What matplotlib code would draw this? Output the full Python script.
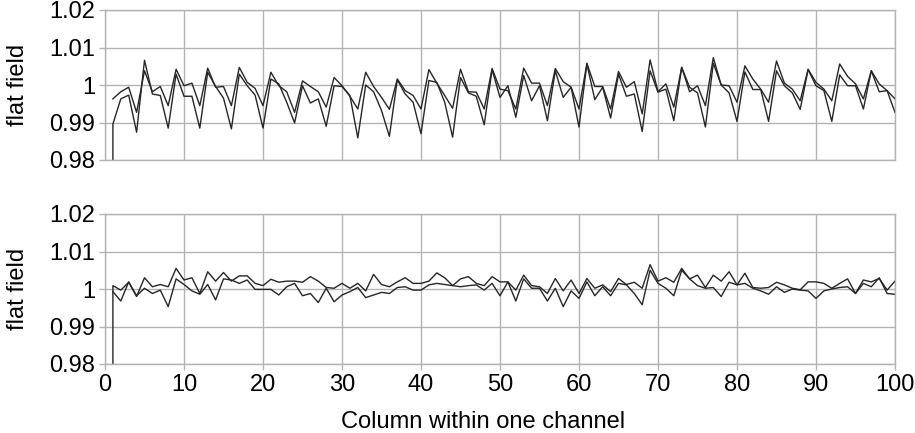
import matplotlib
matplotlib.use("Agg")
import matplotlib.pyplot as plt
import numpy as np

plt.rcParams['font.family'] = ['Liberation Sans', 'DejaVu Sans']

cols = np.arange(1, 101)

# top panel, two channels
top_a = [0.9963, 0.9982, 0.9994, 0.9927, 1.0038, 0.9982, 0.9996, 0.9945, 1.0042, 0.9998,
         1.0005, 0.9945, 1.0045, 0.9994, 0.9996, 0.9945, 1.0047, 1.0007, 0.9991, 0.9945,
         1.0034, 0.9998, 0.9982, 0.9927, 1.0011, 0.9996, 0.9982, 0.9941, 1.0020, 0.9998,
         0.9970, 0.9936, 1.0034, 0.9996, 0.9967, 0.9935, 1.0016, 0.9985, 0.9972, 0.9936,
         1.0041, 1.0005, 0.9972, 0.9938, 1.0042, 0.9982, 0.9981, 0.9936, 1.0044, 0.9989,
         0.9985, 0.9936, 1.0045, 1.0005, 1.0005, 0.9945, 1.0044, 1.0009, 0.9994, 0.9936,
         1.0058, 0.9996, 0.9996, 0.9936, 1.0036, 0.9994, 1.0009, 0.9923, 1.0067, 0.9982,
         1.0003, 0.9941, 1.0047, 0.9982, 0.9998, 0.9945, 1.0073, 1.0000, 0.9998, 0.9954,
         1.0051, 1.0016, 0.9989, 0.9954, 1.0064, 1.0005, 0.9989, 0.9958, 1.0042, 1.0007,
         0.9989, 0.9958, 1.0056, 1.0023, 1.0003, 0.9963, 1.0038, 1.0003, 0.9985, 0.9963]
top_b = [0.9896, 0.9963, 0.9973, 0.9874, 1.0066, 0.9976, 0.9972, 0.9885, 1.0029, 0.9970,
         0.9970, 0.9885, 1.0034, 0.9996, 0.9965, 0.9883, 1.0029, 0.9998, 0.9973, 0.9885,
         1.0016, 1.0003, 0.9954, 0.9899, 0.9998, 0.9952, 0.9963, 0.9890, 0.9998, 0.9996,
         0.9972, 0.9859, 1.0000, 0.9982, 0.9932, 0.9863, 1.0014, 0.9976, 0.9954, 0.9870,
         1.0012, 1.0007, 0.9954, 0.9861, 1.0020, 0.9979, 0.9970, 0.9894, 1.0041, 0.9967,
         0.9998, 0.9914, 1.0025, 0.9958, 0.9998, 0.9905, 1.0038, 0.9967, 0.9994, 0.9888,
         1.0056, 0.9961, 0.9994, 0.9912, 1.0029, 0.9970, 0.9976, 0.9876, 1.0038, 0.9981,
         0.9989, 0.9905, 1.0047, 0.9994, 0.9979, 0.9888, 1.0058, 1.0000, 0.9979, 0.9903,
         1.0035, 0.9988, 0.9988, 0.9903, 1.0038, 0.9998, 0.9979, 0.9935, 1.0041, 0.9998,
         0.9985, 0.9903, 1.0027, 0.9998, 0.9998, 0.9936, 1.0038, 0.9982, 0.9985, 0.9927]

# bottom panel, two channels
bot_a = [1.0009, 0.9997, 1.0018, 0.9980, 1.0030, 1.0006, 1.0012, 1.0006, 1.0055, 1.0024,
         1.0030, 0.9988, 1.0046, 1.0021, 1.0044, 1.0021, 1.0035, 1.0035, 1.0015, 1.0009,
         1.0026, 1.0018, 1.0021, 1.0021, 1.0018, 1.0033, 1.0021, 1.0004, 1.0002, 1.0015,
         1.0002, 1.0015, 0.9995, 1.0039, 1.0012, 1.0006, 1.0019, 1.0030, 1.0015, 1.0015,
         1.0021, 1.0043, 1.0030, 1.0009, 1.0027, 1.0033, 1.0015, 1.0009, 1.0033, 1.0019,
         1.0019, 0.9997, 1.0037, 1.0009, 1.0006, 0.9988, 1.0028, 0.9995, 1.0024, 0.9988,
         1.0028, 1.0002, 1.0011, 0.9993, 1.0028, 1.0012, 1.0018, 1.0002, 1.0065, 1.0021,
         1.0030, 1.0018, 1.0055, 1.0027, 1.0037, 1.0004, 1.0037, 1.0021, 1.0046, 1.0011,
         1.0042, 1.0004, 1.0002, 1.0004, 1.0018, 1.0011, 1.0002, 0.9998, 1.0019, 1.0019,
         1.0015, 1.0002, 1.0015, 1.0027, 0.9988, 1.0024, 1.0019, 1.0028, 0.9997, 1.0021]
bot_b = [0.9993, 0.9968, 1.0019, 0.9982, 1.0002, 0.9988, 0.9997, 0.9953, 1.0027, 1.0012,
         0.9995, 0.9986, 1.0012, 0.9971, 1.0027, 1.0024, 1.0015, 1.0024, 0.9999, 0.9999,
         0.9999, 0.9984, 1.0006, 1.0015, 0.9982, 0.9988, 0.9964, 1.0002, 0.9966, 0.9984,
         0.9993, 1.0004, 0.9977, 0.9984, 0.9991, 0.9988, 1.0004, 1.0006, 0.9997, 0.9997,
         1.0011, 1.0015, 1.0012, 1.0009, 1.0006, 1.0009, 1.0011, 0.9997, 1.0015, 0.9982,
         1.0019, 0.9968, 1.0027, 1.0002, 1.0002, 0.9968, 1.0002, 0.9953, 0.9995, 0.9975,
         1.0019, 0.9982, 1.0006, 0.9982, 1.0015, 1.0011, 0.9988, 0.9958, 1.0050, 1.0015,
         1.0002, 0.9982, 1.0050, 1.0027, 1.0009, 1.0002, 1.0004, 0.9980, 1.0018, 1.0011,
         1.0015, 1.0002, 0.9995, 0.9986, 1.0006, 0.9991, 1.0000, 0.9997, 0.9995, 0.9975,
         0.9995, 1.0000, 1.0004, 1.0006, 0.9988, 1.0015, 1.0006, 1.0030, 0.9988, 0.9986]

# first column of one channel is far below the range (drawn as a drop at x=1)
top_first = 0.97
bot_first = 0.97

yticks = [0.98, 0.99, 1.0, 1.01, 1.02]
yticklabels = ['0.98', '0.99', '1', '1.01', '1.02']
xticks = np.arange(0, 101, 10)

fig = plt.figure(figsize=(9.15, 4.33), dpi=100)
ax1 = fig.add_axes([105 / 915, 1 - 160 / 433, 790 / 915, 150 / 433])
ax2 = fig.add_axes([105 / 915, 1 - 364 / 433, 790 / 915, 150 / 433])

line_kw = dict(color='#262626', lw=1.0)
ax1.plot(cols, top_a, **line_kw)
ax1.plot(np.r_[1, cols], np.r_[top_first, top_b], **line_kw)
ax2.plot(np.r_[1, cols], np.r_[bot_first, bot_a], **line_kw)
ax2.plot(cols, bot_b, **line_kw)

for ax in (ax1, ax2):
    ax.set_xlim(0, 100)
    ax.set_ylim(0.98, 1.02)
    ax.set_xticks(xticks)
    ax.set_yticks(yticks)
    ax.set_yticklabels(yticklabels)
    ax.grid(True, color='#b3b3b3', lw=1.0)
    ax.set_axisbelow(True)
    for s in ax.spines.values():
        s.set_color('#b3b3b3')
        s.set_linewidth(1.0)
    ax.tick_params(colors='#b3b3b3', labelcolor='black', labelsize=17,
                   length=4, width=1.0, pad=3)
    ax.set_ylabel('flat field', fontsize=17, labelpad=15)

ax1.tick_params(axis='x', labelbottom=False, length=0)
ax2.set_xlabel('Column within one channel', fontsize=17, labelpad=11)
ax2.xaxis.label.set_x(0.4785)

fig.savefig('out.png', dpi=100)
